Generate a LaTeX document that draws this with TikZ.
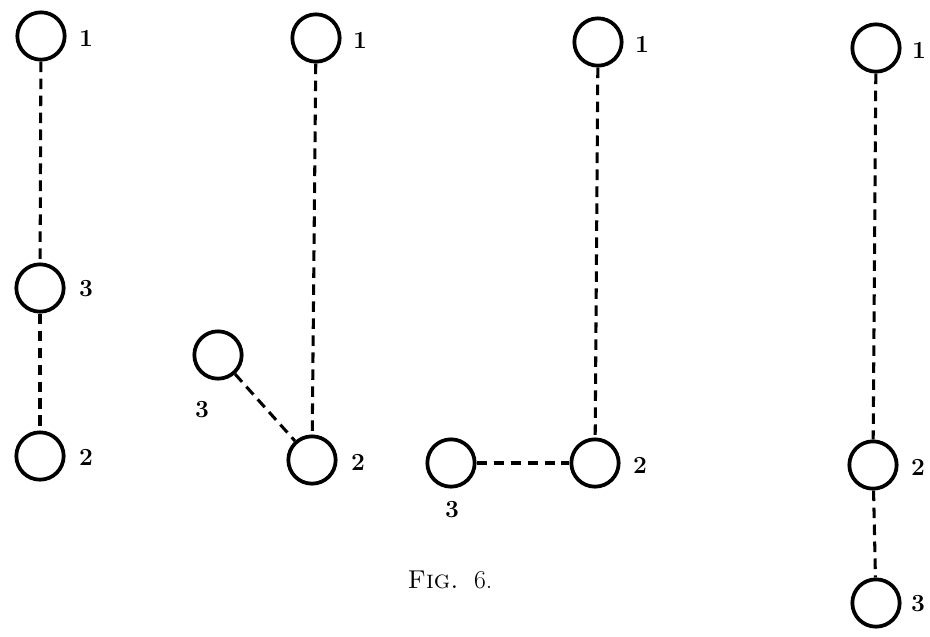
\documentclass[tikz,border=0pt]{standalone}
\usepackage{amsmath}
\usepackage{tikz}
\usetikzlibrary{positioning}

\begin{document}
\begin{tikzpicture}[x=0.03cm, y=-0.03cm,
		ring/.style={draw, circle, line width=3.2pt, minimum size=1.42cm, inner sep=0pt},
		num/.style={font=\fontsize{21}{23}\selectfont\bfseries, inner sep=0pt},
		link/.style={line width=2.6pt, dash pattern=on 9pt off 5.5pt}]
		
		\useasboundingbox (0,0) rectangle (930,636);
		
		% Nodes
		\node[ring] (a1) at (41,36) {};
		\node[ring] (a3) at (40,288) {};
		\node[ring] (a2) at (40,456) {};
		
		\node[ring] (b1) at (316,38) {};
		\node[ring] (b3) at (218,355) {};
		\node[ring] (b2) at (312,460) {};
		
		\node[ring] (c1) at (598,42) {};
		\node[ring] (c3) at (451,463) {};
		\node[ring] (c2) at (595,463) {};
		
		\node[ring] (d1) at (876,48) {};
		\node[ring] (d2) at (873,465) {};
		\node[ring] (d3) at (876,603) {};
		
		% Labels
		\node[num] (a1n) at (86,38) {1};
		\node[num] (a3n) at (86,289) {3};
		\node[num] (a2n) at (86,457) {2};
		
		\node[num] (b1n) at (360,40) {1};
		\node[num] (b3n) at (202,410) {3};
		\node[num] (b2n) at (358,462) {2};
		
		\node[num] (c1n) at (642,44) {1};
		\node[num] (c3n) at (452,510) {3};
		\node[num] (c2n) at (640,465) {2};
		
		\node[num] (d1n) at (919,50) {1};
		\node[num] (d2n) at (918,467) {2};
		\node[num] (d3n) at (918,604) {3};
		
		\node[font=\fontsize{22}{24}\selectfont, inner sep=0pt] (cap) at (450,580) {\textsc{Fig.}\ \ 6.};
		
		% Dashed links
		\draw[link] (a1) -- (a3);
		\draw[link] (a3) -- (a2);
		
		\draw[link] (b1) -- (b2);
		\draw[link] (b3) -- (b2);
		
		\draw[link] (c1) -- (c2);
		\draw[link] (c3) -- (c2);
		
		\draw[link] (d1) -- (d2);
		\draw[link] (d2) -- (d3);
		
	\end{tikzpicture}
\end{document}
